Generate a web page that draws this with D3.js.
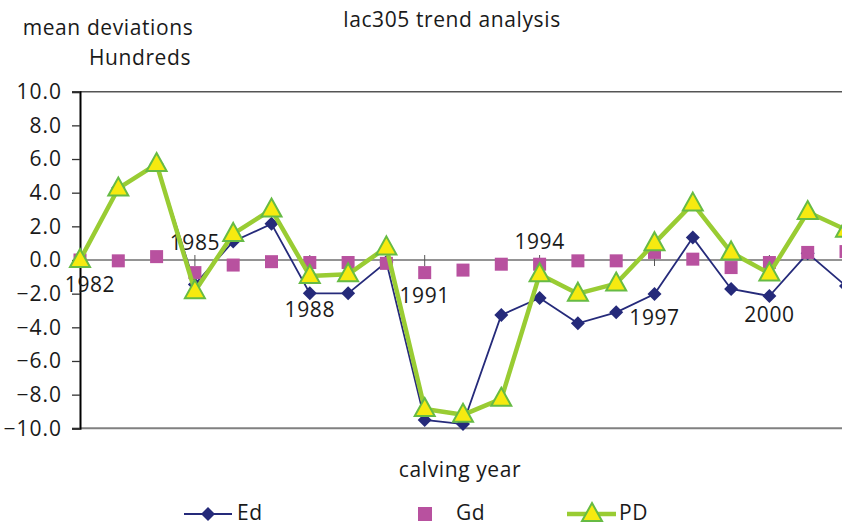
<!DOCTYPE html>
<html><head><meta charset="utf-8">
<script src="https://cdn.jsdelivr.net/npm/d3@7"></script>
<style>
html,body{margin:0;padding:0;background:#fff;}
svg{display:block;font-family:"Open Sans",sans-serif;}
</style></head>
<body><svg id="c" width="842" height="526"></svg>
<script>
const years = [1982,1983,1984,1985,1986,1987,1988,1989,1990,1991,1992,1993,1994,1995,1996,1997,1998,1999,2000,2001,2002];
const Ed = [0,4.3,5.7,-1.45,1.1,2.15,-1.98,-1.98,-0.12,-9.5,-9.75,-3.27,-2.26,-3.76,-3.11,-2.02,1.33,-1.72,-2.14,0.4,-1.55];
const Gd = [0,-0.05,0.2,-0.75,-0.3,-0.1,-0.15,-0.15,-0.2,-0.75,-0.6,-0.25,-0.25,-0.05,-0.05,0.45,0.05,-0.45,-0.15,0.45,0.5];
const PD = [0,4.25,5.7,-1.85,1.55,3.0,-0.95,-0.85,0.75,-8.85,-9.2,-8.25,-0.85,-2.0,-1.4,1.0,3.35,0.45,-0.8,2.85,1.8];
const yTicks = [-10,-8,-6,-4,-2,0,2,4,6,8,10];
const catLabels = ["1982","1985","1988","1991","1994","1997","2000"];
const seriesNames = ["Ed","Gd","PD"];
const titleText = "lac305 trend analysis";
const yTitle1 = "mean deviations";
const yTitle2 = "Hundreds";
const xTitle = "calving year";

const svg = d3.select("#c");
const FONT = 21, LS = "0.6px", TXT = "#1a1a1a";
const x = d3.scalePoint().domain(years).range([80, 80 + 20*38.3]);
const y = d3.scaleLinear().domain([-10,10]).range([428.3, 91.7]);
const xEnd = 80 + 20*38.3 + 10;

function txt(g, s, xx, yy, anchor){
  return g.append("text").attr("x",xx).attr("y",yy).attr("text-anchor",anchor||"start")
    .attr("font-size",FONT).attr("fill",TXT).style("letter-spacing",LS).text(s);
}

// frame lines
svg.append("line").attr("x1",80).attr("x2",xEnd).attr("y1",y(10)).attr("y2",y(10)).attr("stroke","#555").attr("stroke-width",1.5);
svg.append("line").attr("x1",80).attr("x2",xEnd).attr("y1",y(-10)).attr("y2",y(-10)).attr("stroke","#808080").attr("stroke-width",2);

// y axis
const yAxis = d3.axisLeft(y).tickValues(yTicks).tickSize(8).tickPadding(10)
  .tickFormat(d => (d<0?"\u2212":"") + Math.abs(d).toFixed(1));
const gy = svg.append("g").attr("transform","translate(80,0)").call(yAxis);
gy.select(".domain").attr("stroke","#000").attr("stroke-width",2);
gy.selectAll(".tick line").attr("stroke","#333").attr("stroke-width",1.3);
gy.selectAll(".tick text").attr("font-size",FONT).attr("fill",TXT).attr("font-family","'Open Sans',sans-serif").style("letter-spacing","1px");

// zero line with ticks
svg.append("line").attr("x1",80).attr("x2",xEnd).attr("y1",y(0)).attr("y2",y(0)).attr("stroke","#707070").attr("stroke-width",1.6);
const tickYears = years.filter((d,i)=>i%3===0);
svg.append("g").selectAll("line").data(tickYears).join("line")
  .attr("x1",d=>x(d)).attr("x2",d=>x(d)).attr("y1",y(0)-5).attr("y2",y(0)+6)
  .attr("stroke","#555").attr("stroke-width",1);

// category labels (irregular placement as in original)
const labelLayout = {"1982":[10,291.7],"1985":[0,250],"1988":[0,316.7],"1991":[0,303],"1994":[0,249],"1997":[0,325],"2000":[0,321.7]};
const gl = svg.append("g");
catLabels.forEach(d => txt(gl, d, x(+d)+labelLayout[d][0], labelLayout[d][1], "middle"));

// series
const pts = arr => years.map((yr,i)=>[x(yr), y(arr[i])]);
const line = d3.line();
const edC = "#252a7a", gdC = "#b8519f", pdC = "#99cc33", pdFill="#f6ea10", pdStroke="#66bb44";
const diamond = "M0,-7L7,0L0,7L-7,0Z";
const tri = "M0,-11L10,7L-10,7Z";

svg.append("path").attr("d",line(pts(Ed))).attr("fill","none").attr("stroke",edC).attr("stroke-width",1.8);
svg.append("g").selectAll("path").data(pts(Ed)).join("path")
  .attr("transform",d=>`translate(${d[0]},${d[1]})`).attr("d",diamond).attr("fill",edC);

svg.append("g").selectAll("rect").data(pts(Gd)).join("rect")
  .attr("x",d=>d[0]-6.5).attr("y",d=>d[1]-6.5).attr("width",13).attr("height",13).attr("fill",gdC);

svg.append("path").attr("d",line(pts(PD))).attr("fill","none").attr("stroke",pdC).attr("stroke-width",4.5).attr("stroke-linejoin","round");
svg.append("g").selectAll("path").data(pts(PD)).join("path")
  .attr("transform",d=>`translate(${d[0]},${d[1]})`)
  .attr("d",tri).attr("fill",pdFill).attr("stroke",pdStroke).attr("stroke-width",2);

// titles
txt(svg, titleText, 452, 27, "middle");
txt(svg, yTitle1, 108, 35, "middle");
txt(svg, yTitle2, 140, 65, "middle");
txt(svg, xTitle, 460, 477, "middle");

// legend
const lg = svg.append("g");
const ly = 514;
lg.append("line").attr("x1",184).attr("x2",232).attr("y1",ly).attr("y2",ly).attr("stroke",edC).attr("stroke-width",1.8);
lg.append("path").attr("transform",`translate(208,${ly})`).attr("d",diamond).attr("fill",edC);
txt(lg, seriesNames[0], 237, ly+6);
lg.append("rect").attr("x",418).attr("y",ly-7).attr("width",14).attr("height",14).attr("fill",gdC);
txt(lg, seriesNames[1], 456, ly+6);
lg.append("line").attr("x1",567).attr("x2",616).attr("y1",ly).attr("y2",ly).attr("stroke",pdC).attr("stroke-width",4.5);
lg.append("path").attr("transform",`translate(592,${ly})`).attr("d",tri).attr("fill",pdFill).attr("stroke",pdStroke).attr("stroke-width",2);
txt(lg, seriesNames[2], 619, ly+6);
</script></body></html>
